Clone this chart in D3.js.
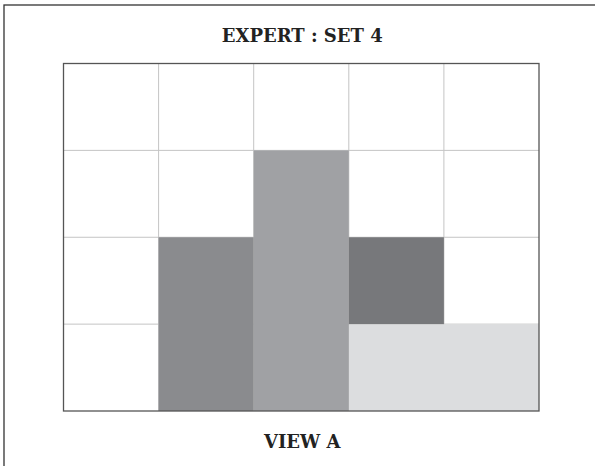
<!DOCTYPE html>
<html>
<head>
<meta charset="utf-8">
<script src="https://cdn.jsdelivr.net/npm/d3@7"></script>
<style>
html,body{margin:0;padding:0;background:#fff;}
svg{display:block;}
</style>
</head>
<body>
<svg id="chart" width="595" height="466"></svg>
<script>
const titleText = "EXPERT : SET 4";
const footerText = "VIEW A";
const columns = ["c1", "c2", "c3", "c4", "c5"];
const rowTicks = [0, 1, 2, 3, 4];
const seriesNames = ["light", "mid", "tall", "dark"];
const lightValues = [0, 0, 0, 1, 1];
const midValues = [0, 2, 0, 0, 0];
const tallValues = [0, 0, 3, 0, 0];
const darkValues = [0, 0, 0, 1, 0];
const seriesColors = ["#dcdddf", "#8a8b8e", "#a0a1a4", "#77787b"];

const table = columns.map((c, i) => ({
  col: c,
  light: lightValues[i],
  mid: midValues[i],
  tall: tallValues[i],
  dark: darkValues[i]
}));

const svg = d3.select("#chart");
const W = 595, H = 466;
const m = {left: 63.5, top: 63.5, right: 56, bottom: 55};
const x = d3.scaleBand().domain(columns).range([m.left, W - m.right]).padding(0);
const y = d3.scaleLinear().domain([0, 4]).range([H - m.bottom, m.top]);
const color = d3.scaleOrdinal().domain(seriesNames).range(seriesColors);
const cx = (x.range()[0] + x.range()[1]) / 2 + 1;

// outer frame
svg.append("rect").attr("x", 4).attr("y", 5).attr("width", W + 10).attr("height", H + 10)
  .attr("fill", "none").attr("stroke", "#333").attr("stroke-width", 1.3);

// title
svg.append("text").attr("x", cx).attr("y", 42).attr("text-anchor", "middle")
  .attr("font-family", "'DejaVu Serif', serif").attr("font-weight", "bold")
  .attr("font-size", 18).attr("fill", "#222").text(titleText);

// grid
const g = svg.append("g");
g.selectAll("line.v").data(columns.slice(1)).join("line").attr("class", "v")
  .attr("x1", d => x(d)).attr("x2", d => x(d))
  .attr("y1", y(4)).attr("y2", y(0))
  .attr("stroke", "#c4c4c4").attr("stroke-width", 1);
g.selectAll("line.h").data(rowTicks.slice(1, -1)).join("line").attr("class", "h")
  .attr("x1", x.range()[0]).attr("x2", x.range()[1])
  .attr("y1", d => y(d)).attr("y2", d => y(d))
  .attr("stroke", "#c4c4c4").attr("stroke-width", 1);

// stacked cells
const stacked = d3.stack().keys(seriesNames)(table);
svg.append("g").selectAll("g").data(stacked).join("g")
  .attr("fill", d => color(d.key))
  .selectAll("rect").data(d => d.filter(s => s[1] > s[0])).join("rect")
  .attr("x", d => x(d.data.col))
  .attr("width", x.bandwidth())
  .attr("y", d => y(d[1]))
  .attr("height", d => y(d[0]) - y(d[1]));

// plot frame
svg.append("rect").attr("x", x.range()[0]).attr("y", y(4))
  .attr("width", x.range()[1] - x.range()[0]).attr("height", y(0) - y(4))
  .attr("fill", "none").attr("stroke", "#555").attr("stroke-width", 1.3);

// footer
svg.append("text").attr("x", cx).attr("y", 448).attr("text-anchor", "middle")
  .attr("font-family", "'DejaVu Serif', serif").attr("font-weight", "bold")
  .attr("font-size", 18).attr("fill", "#222").text(footerText);
</script>
</body>
</html>
